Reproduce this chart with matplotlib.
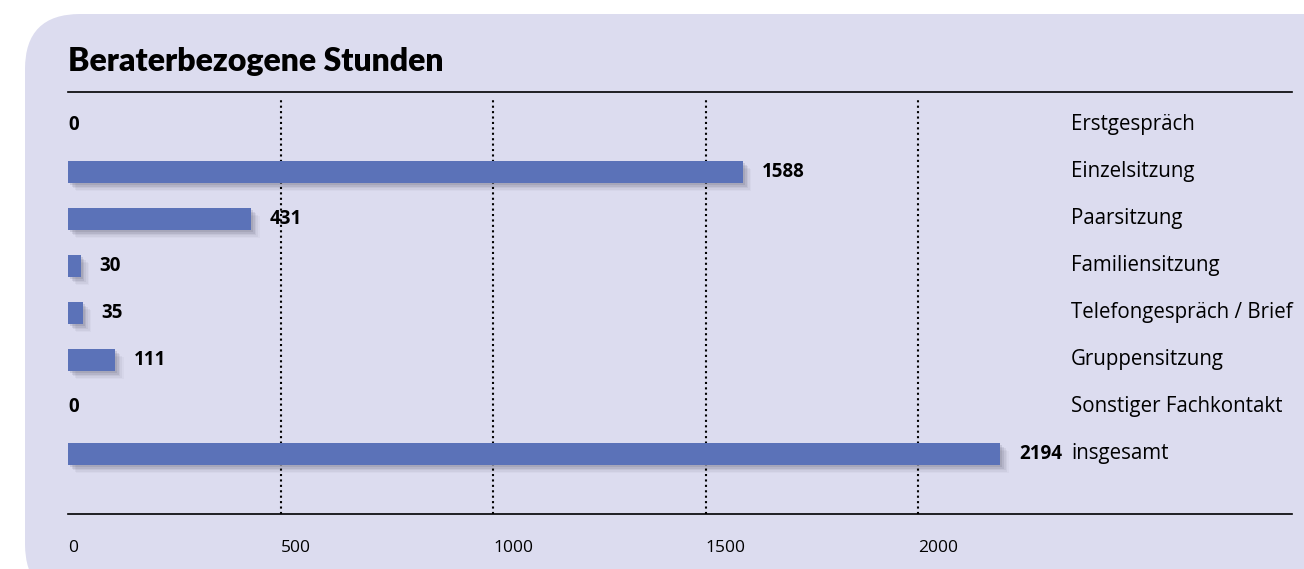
import matplotlib
matplotlib.use("Agg")
import matplotlib.pyplot as plt
from matplotlib.patches import FancyBboxPatch
import matplotlib.transforms as mtransforms

categories = [
    "Erstgespräch",
    "Einzelsitzung",
    "Paarsitzung",
    "Familiensitzung",
    "Telefongespräch / Brief",
    "Gruppensitzung",
    "Sonstiger Fachkontakt",
    "insgesamt",
]
hours = [0, 1588, 431, 30, 35, 111, 0, 2194]
x_ticks = [0, 500, 1000, 1500, 2000]

bar_color = "#5b72b8"
panel_color = "#dcdcef"

plt.rcParams["font.family"] = ["Open Sans", "DejaVu Sans"]

fig = plt.figure(figsize=(13.04, 5.69), dpi=100)
fig.patch.set_facecolor("white")

# rounded background panel (inches)
panel = FancyBboxPatch((0.25, -0.3), 13.5, 5.85,
                       boxstyle="round,pad=0,rounding_size=0.55",
                       transform=fig.dpi_scale_trans,
                       facecolor=panel_color, edgecolor="none", zorder=-5)
fig.patches.append(panel)

ax = fig.add_axes([68 / 1304, (569 - 514) / 569, (1292 - 68) / 1304, (514 - 92) / 569])
ax.set_zorder(2)
ax.set_facecolor("none")

ypos = list(range(len(categories)))
ax.set_xlim(0, 2880)
ax.set_ylim(8.277, -0.702)

# soft shadow behind bars
for k, a in enumerate([0.14, 0.11, 0.08, 0.06, 0.04]):
    off = mtransforms.offset_copy(ax.transData, fig=fig, x=2 + 1.6 * k, y=-(2 + 1.6 * k), units="dots")
    ax.barh(ypos, hours, height=0.47, color="#4a4a5e", alpha=a, transform=off, zorder=1)

ax.barh(ypos, hours, height=0.47, color=bar_color, zorder=2)

for y, v in zip(ypos, hours):
    if v > 0:
        ax.annotate(str(v), (v, y), xytext=(13.5, 0), textcoords="offset points",
                    va="center", ha="left", fontsize=13.5, fontweight="bold")
    else:
        ax.text(0, y, "0", va="center", ha="left", fontsize=13.5, fontweight="bold")
    ax.text(2360, y, categories[y], va="center", ha="left", fontsize=14.8)

for t in x_ticks[1:]:
    ax.axvline(t, ymin=0.0, ymax=0.98, color="black", linestyle=(0, (1, 1.6)), linewidth=1.5, zorder=1)

for s in ["left", "right"]:
    ax.spines[s].set_visible(False)
ax.spines["top"].set_linewidth(1.2)
ax.spines["bottom"].set_linewidth(1.2)
ax.set_yticks([])
ax.set_xticks(x_ticks)
ax.set_xticklabels([str(t) for t in x_ticks], fontsize=12.5, ha="left")
ax.tick_params(axis="x", length=0, pad=19)

fig.text(68 / 1304, 1 - 62 / 569, "Beraterbezogene Stunden", fontsize=23,
         fontweight="heavy", va="center", ha="left", family=["Lato", "DejaVu Sans"])

fig.savefig("out.png", dpi=100)
